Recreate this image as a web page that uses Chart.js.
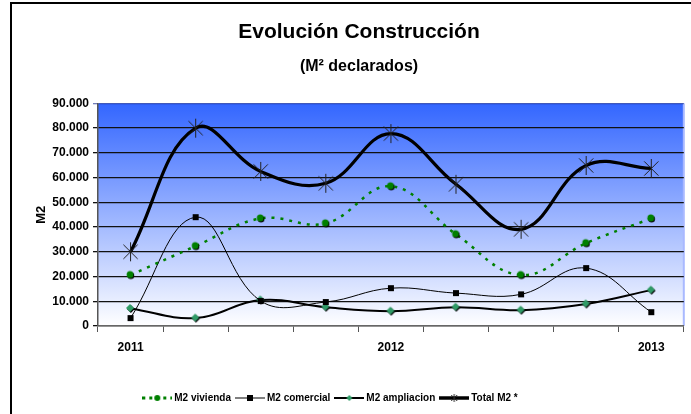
<!DOCTYPE html>
<html>
<head>
<meta charset="utf-8">
<script src="https://cdn.jsdelivr.net/npm/chart.js@4.4.1/dist/chart.umd.min.js"></script>
<style>
  html, body { margin: 0; padding: 0; background: #fff; }
  #wrap { position: relative; width: 691px; height: 414px; overflow: hidden; }
  #frame { position: absolute; left: 10px; top: 2px; width: 700px; height: 430px;
           border-left: 2px solid #000; border-top: 2px solid #000; pointer-events: none; }
</style>
</head>
<body>
<div id="wrap">
  <canvas id="chart" width="691" height="414"></canvas>
  <div id="frame"></div>
</div>
<script>
// Data
const periods = ['2011', '', '', '', '2012', '', '', '', '2013'];
const viviendaM2 = [20600, 32300, 43500, 41500, 56500, 37100, 20600, 33500, 43500];
const comercialM2 = [3200, 44000, 10100, 9700, 15300, 13300, 12800, 23400, 5600];
const ampliacionM2 = [7100, 3200, 10500, 7600, 6000, 7600, 6400, 8900, 14500];
const totalM2 = [30000, 80000, 62500, 57700, 77800, 57300, 39100, 64900, 63700];
const seriesNames = ['M2 vivienda', 'M2 comercial', 'M2 ampliacion', 'Total M2 *'];

const FONT = "'Liberation Sans', Arial, sans-serif";
Chart.defaults.font.family = FONT;
Chart.defaults.color = '#000';

const colors = {
    green: '#008000',
    teal: '#2f9a66',
    black: '#000000'
};

function makeCanvas(w, h, draw) {
    const c = document.createElement('canvas');
    c.width = w;
    c.height = h;
    draw(c.getContext('2d'), w, h);
    return c;
}

// marker drawers (cx, cy = centre)
function drawCircle(ctx, cx, cy) {
    ctx.fillStyle = '#000';
    ctx.beginPath(); ctx.ellipse(cx + 0.8, cy + 1, 3.4, 3.6, 0, 0, Math.PI * 2); ctx.fill();
    ctx.fillStyle = colors.green;
    ctx.beginPath(); ctx.ellipse(cx, cy, 3.4, 3.6, 0, 0, Math.PI * 2); ctx.fill();
}
function drawSquare(ctx, cx, cy) {
    ctx.fillStyle = '#000';
    ctx.fillRect(cx - 3, cy - 3, 6, 6);
}
function drawDiamond(ctx, cx, cy) {
    const d = (x, y, col) => {
        ctx.fillStyle = col;
        ctx.beginPath();
        ctx.moveTo(x, y - 4); ctx.lineTo(x + 4, y); ctx.lineTo(x, y + 4); ctx.lineTo(x - 4, y);
        ctx.closePath(); ctx.fill();
    };
    d(cx + 0.8, cy + 1, '#000');
    d(cx, cy, colors.teal);
}
function drawStar(ctx, cx, cy, r) {
    ctx.strokeStyle = '#222';
    ctx.lineWidth = 1;
    ctx.beginPath();
    ctx.moveTo(cx, cy - r); ctx.lineTo(cx, cy + r);
    ctx.moveTo(cx - r * 0.75, cy - r * 0.75); ctx.lineTo(cx + r * 0.75, cy + r * 0.75);
    ctx.moveTo(cx + r * 0.75, cy - r * 0.75); ctx.lineTo(cx - r * 0.75, cy + r * 0.75);
    ctx.stroke();
}

const pointIcons = [
    makeCanvas(11, 11, ctx => drawCircle(ctx, 5, 5)),
    makeCanvas(8, 8, ctx => drawSquare(ctx, 4, 4)),
    makeCanvas(11, 11, ctx => drawDiamond(ctx, 5, 5)),
    makeCanvas(21, 21, ctx => drawStar(ctx, 10.5, 10.5, 9.5))
];

// legend icons: line segment with marker in the middle
const legendIcons = [
    makeCanvas(30, 10, ctx => {
        ctx.strokeStyle = colors.green; ctx.lineWidth = 3; ctx.setLineDash([3, 4]);
        ctx.beginPath(); ctx.moveTo(0, 5); ctx.lineTo(30, 5); ctx.stroke();
        ctx.fillStyle = colors.green;
        ctx.beginPath(); ctx.arc(15, 5, 3, 0, Math.PI * 2); ctx.fill();
    }),
    makeCanvas(30, 10, ctx => {
        ctx.strokeStyle = '#555'; ctx.lineWidth = 1.5;
        ctx.beginPath(); ctx.moveTo(0, 5); ctx.lineTo(30, 5); ctx.stroke();
        drawSquare(ctx, 15, 5);
    }),
    makeCanvas(30, 10, ctx => {
        ctx.strokeStyle = '#000'; ctx.lineWidth = 2;
        ctx.beginPath(); ctx.moveTo(0, 5); ctx.lineTo(30, 5); ctx.stroke();
        ctx.fillStyle = colors.teal;
        ctx.beginPath(); ctx.moveTo(15, 2); ctx.lineTo(18, 5); ctx.lineTo(15, 8); ctx.lineTo(12, 5); ctx.fill();
    }),
    makeCanvas(30, 10, ctx => {
        ctx.strokeStyle = '#000'; ctx.lineWidth = 3.5;
        ctx.beginPath(); ctx.moveTo(0, 5); ctx.lineTo(30, 5); ctx.stroke();
        drawStar(ctx, 15, 5, 4);
    })
];

const plotBackground = {
    id: 'plotBackground',
    beforeDraw(chart) {
        const {ctx, chartArea: a} = chart;
        const g = ctx.createLinearGradient(0, a.top, 0, a.bottom);
        g.addColorStop(0, '#3366ff');
        g.addColorStop(1, '#ffffff');
        ctx.save();
        ctx.fillStyle = g;
        ctx.fillRect(a.left, a.top, a.width, a.height);
        ctx.strokeStyle = '#a9b9ff';
        ctx.lineWidth = 2;
        ctx.beginPath(); ctx.moveTo(a.right, a.top); ctx.lineTo(a.right, a.bottom); ctx.stroke();
        ctx.restore();
    }
};

// legend drawn by hand so the line+marker icons look like the original
const lineLegend = {
    id: 'lineLegend',
    afterDraw(chart, args, opts) {
        const ctx = chart.ctx;
        ctx.save();
        ctx.font = 'bold 10px ' + FONT;
        ctx.textBaseline = 'middle';
        ctx.fillStyle = '#000';
        const iconW = 30, gap = 2, spacing = 4;
        const names = chart.data.datasets.map(d => d.label);
        const widths = names.map(n => iconW + gap + ctx.measureText(n).width);
        const total = widths.reduce((s, w) => s + w, 0) + spacing * (names.length - 1);
        let x = opts.centerX - total / 2;
        names.forEach((n, i) => {
            ctx.drawImage(legendIcons[i], x, opts.y - 5);
            ctx.fillText(n, x + iconW + gap, opts.y);
            x += widths[i] + spacing;
        });
        ctx.restore();
    }
};

const yLabel = v => v === 0 ? '0' : (v / 1000) + '.000';

new Chart(document.getElementById('chart').getContext('2d'), {
    type: 'line',
    data: {
        labels: periods,
        datasets: [
            {
                label: seriesNames[0],
                data: viviendaM2,
                borderColor: colors.green,
                borderWidth: 2.5,
                borderDash: [3, 6],
                pointStyle: pointIcons[0],
                tension: 0.4
            },
            {
                label: seriesNames[1],
                data: comercialM2,
                borderColor: colors.black,
                borderWidth: 1,
                pointStyle: pointIcons[1],
                tension: 0.4
            },
            {
                label: seriesNames[2],
                data: ampliacionM2,
                borderColor: colors.black,
                borderWidth: 2,
                pointStyle: pointIcons[2],
                tension: 0.4
            },
            {
                label: seriesNames[3],
                data: totalM2,
                borderColor: colors.black,
                borderWidth: 3.2,
                pointStyle: pointIcons[3],
                tension: 0.4
            }
        ]
    },
    options: {
        responsive: false,
        animation: false,
        layout: { padding: { left: 30, right: 3, top: 0, bottom: 0 } },
        plugins: {
            legend: { display: false },
            tooltip: { enabled: false },
            title: {
                display: true,
                text: 'Evolución Construcción',
                font: { size: 21, weight: 'bold' },
                padding: { top: 20, bottom: 4 }
            },
            subtitle: {
                display: true,
                text: '(M² declarados)',
                font: { size: 16, weight: 'bold' },
                padding: { top: 8, bottom: 27 }
            },
            lineLegend: { centerX: 330, y: 398 }
        },
        scales: {
            x: {
                offset: true,
                afterFit: s => { s.height = 88; },
                grid: { offset: true, drawOnChartArea: false, color: '#555', tickLength: 6 },
                border: { color: '#666', width: 1.5 },
                ticks: {
                    autoSkip: false,
                    maxRotation: 0,
                    padding: 8,
                    font: { size: 12, weight: 'bold' }
                }
            },
            y: {
                min: 0,
                max: 90000,
                afterFit: s => { s.width = 68; },
                title: {
                    display: true,
                    text: 'M2',
                    font: { size: 13, weight: 'bold' },
                    padding: { top: 4, bottom: 0 }
                },
                grid: {
                    color: ctx => ctx.tick && ctx.tick.value === 90000 ? 'rgba(20,40,140,0.6)' : '#111',
                    lineWidth: 1.3,
                    tickLength: 5
                },
                border: { color: '#555', width: 1.5 },
                ticks: {
                    stepSize: 10000,
                    padding: 4,
                    font: { size: 12, weight: 'bold' },
                    callback: yLabel
                }
            }
        }
    },
    plugins: [plotBackground, lineLegend]
});
</script>
</body>
</html>
